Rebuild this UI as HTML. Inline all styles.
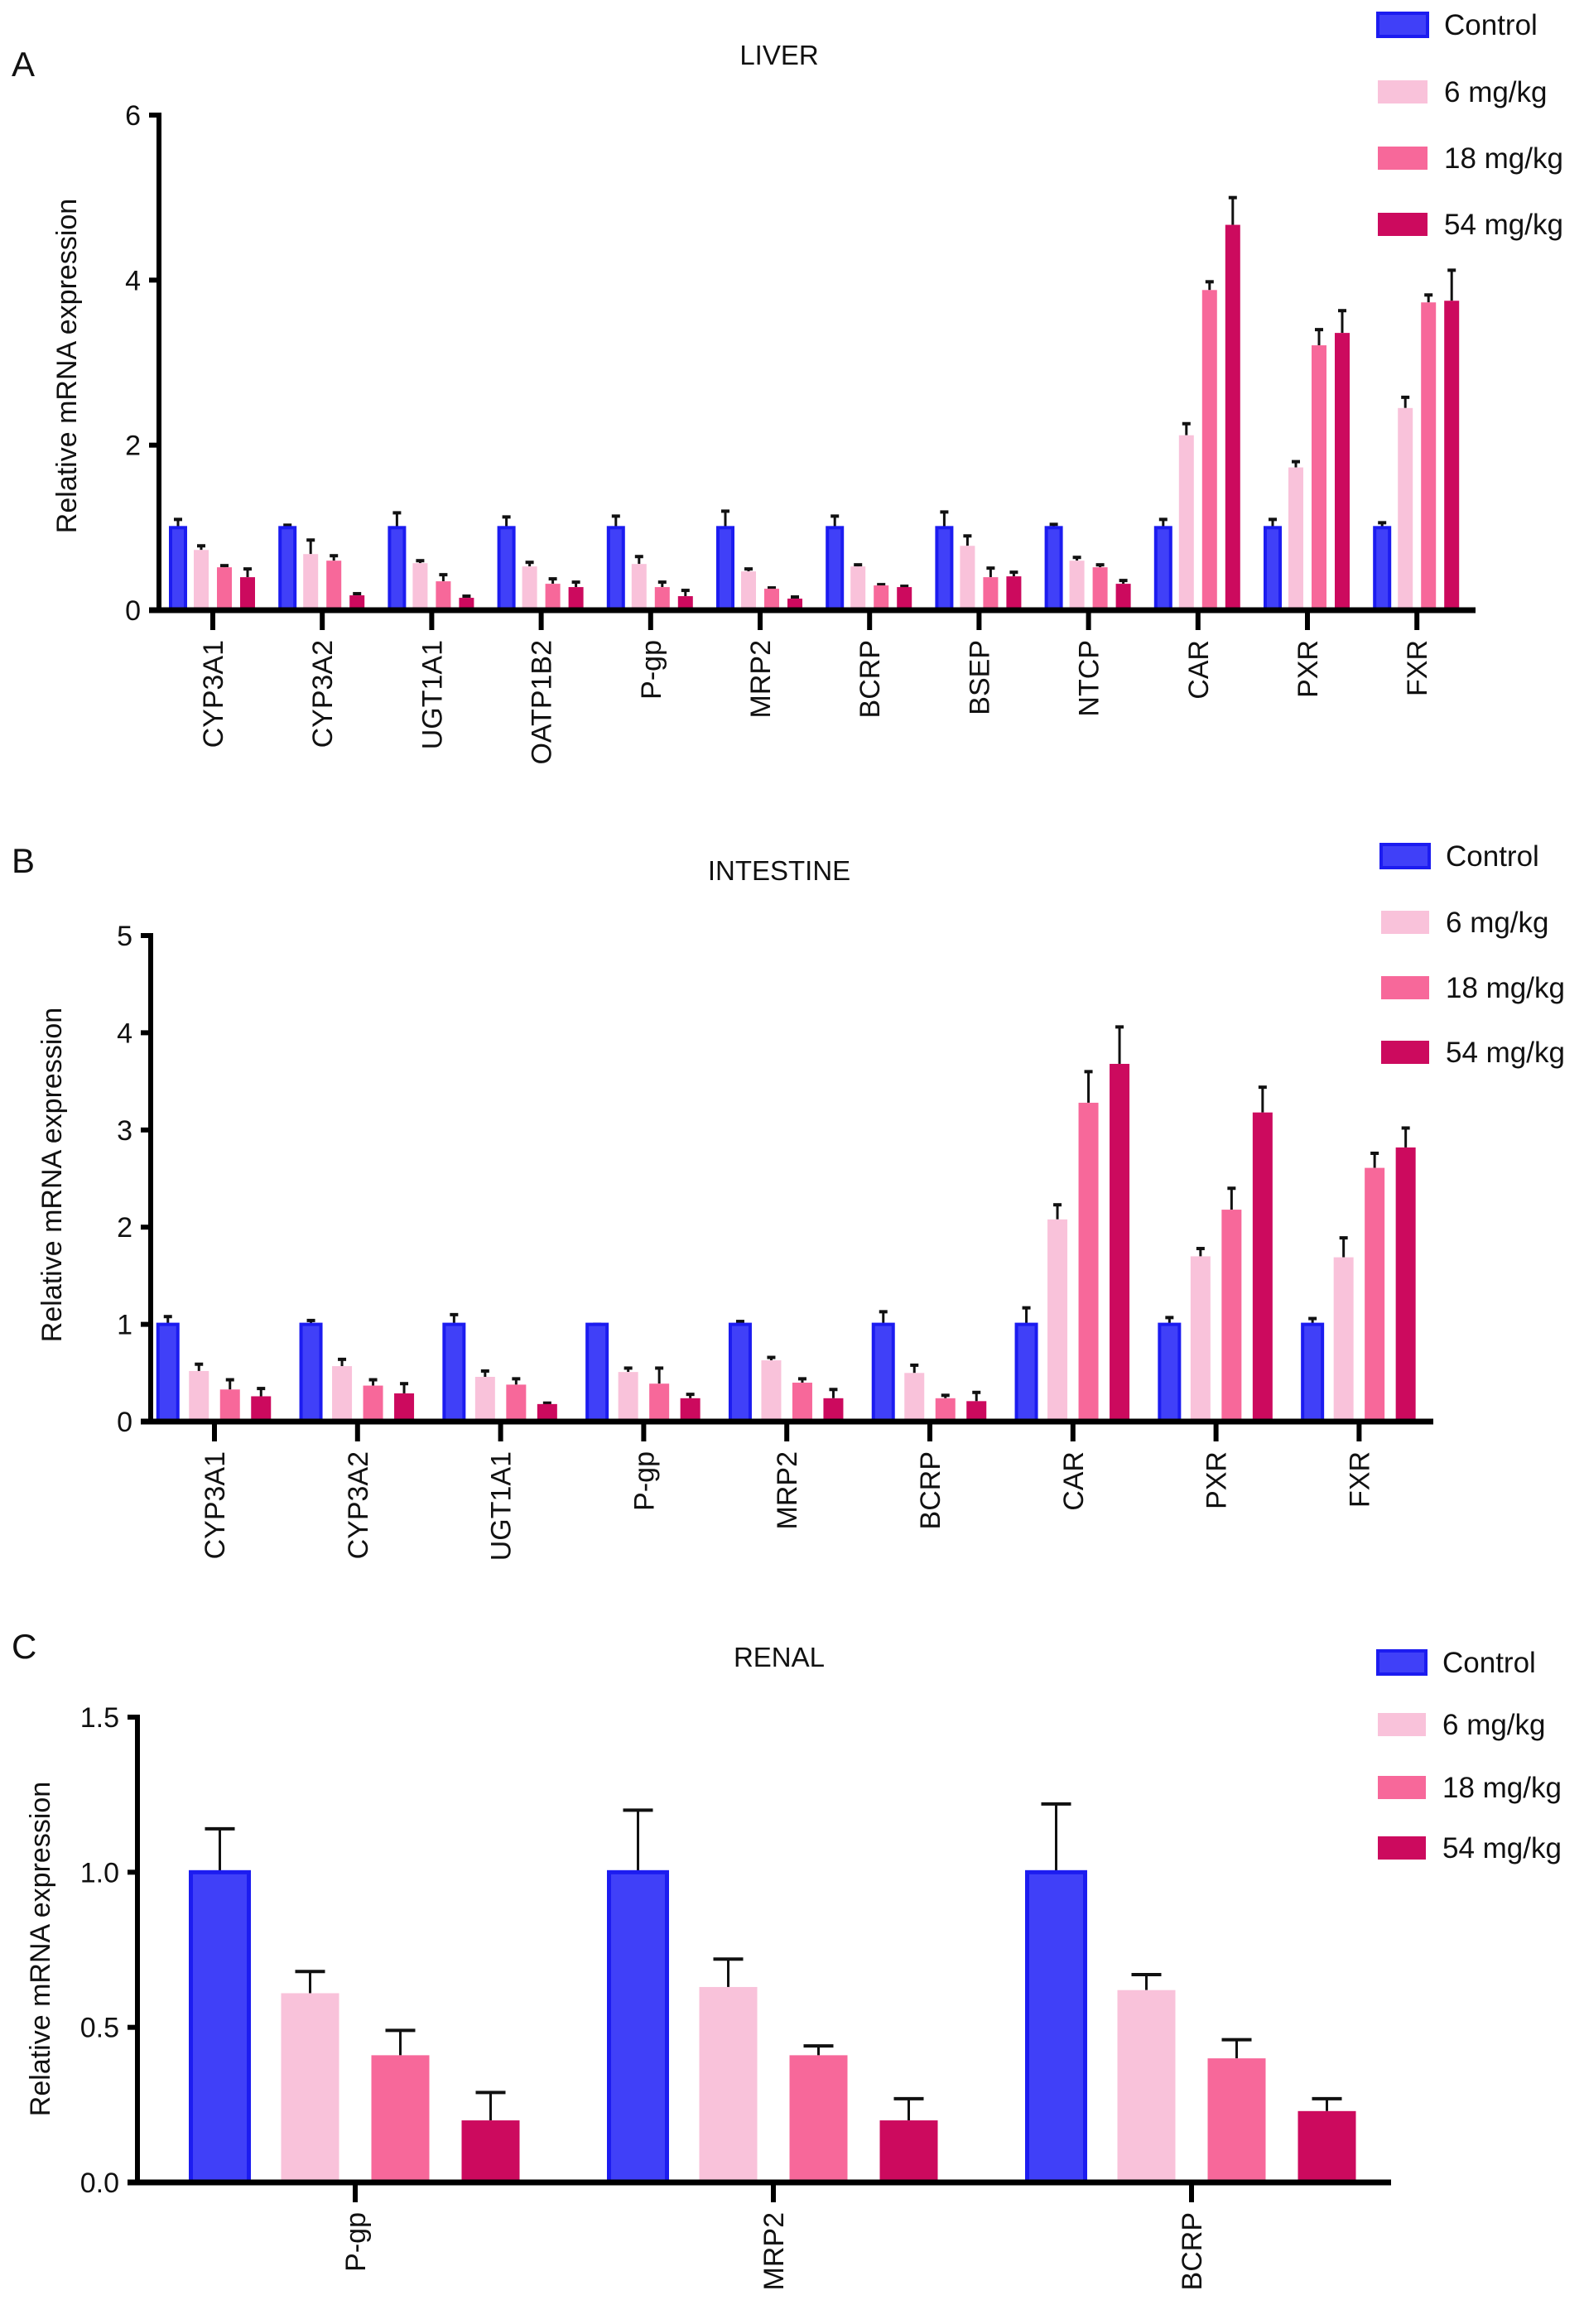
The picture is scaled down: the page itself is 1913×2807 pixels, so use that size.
<!DOCTYPE html>
<html><head><meta charset="utf-8"><style>
html,body{margin:0;padding:0;background:#fff}
svg{display:block}
text{font-family:"Liberation Sans",sans-serif;fill:#111}
</style></head><body>
<svg id="fig" width="1913" height="2807" viewBox="0 0 1913 2807" xmlns="http://www.w3.org/2000/svg"></svg>
<script>
const seriesNames = ["Control","6 mg/kg","18 mg/kg","54 mg/kg"];
const seriesColors = ["#4040f8","#f9c2da","#f7689a","#cc0a5e"];

const liverCats = ["CYP3A1","CYP3A2","UGT1A1","OATP1B2","P-gp","MRP2","BCRP","BSEP","NTCP","CAR","PXR","FXR"];
const liverControl = [1,1,1,1,1,1,1,1,1,1,1,1];
const liverControlErr = [1.1,1.03,1.18,1.13,1.14,1.2,1.14,1.19,1.04,1.1,1.1,1.06];
const liver6 = [0.73,0.68,0.57,0.53,0.56,0.47,0.53,0.78,0.6,2.12,1.73,2.45];
const liver6Err = [0.78,0.85,0.6,0.58,0.65,0.5,0.55,0.9,0.64,2.26,1.8,2.58];
const liver18 = [0.52,0.6,0.35,0.32,0.28,0.26,0.3,0.4,0.52,3.88,3.21,3.73];
const liver18Err = [0.54,0.66,0.43,0.38,0.34,0.27,0.31,0.51,0.55,3.98,3.4,3.82];
const liver54 = [0.4,0.18,0.15,0.28,0.17,0.14,0.28,0.41,0.32,4.67,3.36,3.75];
const liver54Err = [0.5,0.2,0.17,0.34,0.24,0.16,0.29,0.46,0.36,5.0,3.63,4.12];
const liverTicks = [0,2,4,6];

const intCats = ["CYP3A1","CYP3A2","UGT1A1","P-gp","MRP2","BCRP","CAR","PXR","FXR"];
const intControl = [1,1,1,1,1,1,1,1,1];
const intControlErr = [1.08,1.04,1.1,1.0,1.03,1.13,1.17,1.07,1.06];
const int6 = [0.52,0.57,0.46,0.51,0.63,0.5,2.08,1.7,1.69];
const int6Err = [0.59,0.64,0.52,0.55,0.66,0.58,2.23,1.78,1.89];
const int18 = [0.33,0.37,0.38,0.39,0.4,0.24,3.28,2.18,2.61];
const int18Err = [0.43,0.43,0.44,0.55,0.44,0.27,3.6,2.4,2.76];
const int54 = [0.26,0.29,0.18,0.24,0.24,0.21,3.68,3.18,2.82];
const int54Err = [0.34,0.39,0.19,0.28,0.33,0.3,4.06,3.44,3.02];
const intTicks = [0,1,2,3,4,5];

const renCats = ["P-gp","MRP2","BCRP"];
const renControl = [1,1,1];
const renControlErr = [1.14,1.2,1.22];
const ren6 = [0.61,0.63,0.62];
const ren6Err = [0.68,0.72,0.67];
const ren18 = [0.41,0.41,0.4];
const ren18Err = [0.49,0.44,0.46];
const ren54 = [0.2,0.2,0.23];
const ren54Err = [0.29,0.27,0.27];
const renTicks = ["0.0","0.5","1.0","1.5"];

const NS="http://www.w3.org/2000/svg";
const svg=document.getElementById('fig');
function mk(tag,attrs,parent,txt){const e=document.createElementNS(NS,tag);for(const k in attrs)e.setAttribute(k,attrs[k]);if(txt!==undefined)e.textContent=txt;(parent||svg).appendChild(e);return e;}

function panel(p){
  const g=mk('g',{});
  
  
  const yMax=p.ticks[p.ticks.length-1]*1;
  const ys=v=>p.y0-(v/yMax)*(p.y0-p.yTop);
  const xc=i=>p.x0c+i*p.step;
  let t=mk('text',{x:14,y:p.letterY,'font-size':42},g,p.letter);
  
  
  t=mk('text',{x:941,y:p.titleY,'font-size':33,'text-anchor':'middle'},g,p.title);
  
  
  const vals=[p.c,p.s6,p.s18,p.s54], errs=[p.ce,p.e6,p.e18,p.e54];
  for(let s=0;s<4;s++){
    for(let i=0;i<p.cats.length;i++){
      const cx=xc(i)+(s-1.5)*p.pitch;
      const top=ys(vals[s][i]), et=ys(errs[s][i]);
      const el=mk('line',{x1:cx,x2:cx,y1:top,y2:et,stroke:'#111','stroke-width':p.ew},g);
      
      
      const cap=mk('line',{x1:cx-p.cap,x2:cx+p.cap,y1:et,y2:et,stroke:'#111','stroke-width':p.ew+1},g);
      
      
      const r=mk('rect',{x:cx-p.bw/2,y:top,width:p.bw,height:p.y0-top,fill:seriesColors[s]},g);
      if(s===0){r.setAttribute('stroke','#1c1cf0');r.setAttribute('stroke-width',p.bw>40?5:4);}
      
      
    }
  }
  const ya=mk('line',{x1:p.ax,x2:p.ax,y1:p.yTop-3,y2:p.y0+3,stroke:'#000','stroke-width':6},g);
  
  
  const xa=mk('line',{x1:p.ax-12,x2:p.axEnd,y1:p.y0,y2:p.y0,stroke:'#000','stroke-width':7},g);
  
  
  p.ticks.forEach(tv=>{
    const y=ys(tv*1);
    const tk=mk('line',{x1:p.ax-12,x2:p.ax,y1:y,y2:y,stroke:'#000','stroke-width':6},g);
    
    
    const tl=mk('text',{x:p.ax-22,y:y+12,'font-size':34,'text-anchor':'end'},g,String(tv));
    
    
  });
  p.cats.forEach((c,i)=>{
    const x=xc(i);
    const tk=mk('line',{x1:x,x2:x,y1:p.y0,y2:p.y0+24,stroke:'#000','stroke-width':6},g);
    
    
    const tl=mk('text',{x:0,y:0,'font-size':34,'text-anchor':'end',transform:`translate(${x+12},${p.y0+36}) rotate(-90)`},g,c);
    
    
  });
  const yt=mk('text',{x:0,y:0,'font-size':34,'text-anchor':'middle',transform:`translate(${p.ytX},${p.ytY}) rotate(-90)`},g,'Relative mRNA expression');
  
  
  for(let s=0;s<4;s++){
    const y=p.legY[s];
    const sw=mk('rect',{x:p.legX,y:y-14,width:p.legW,height:28,fill:seriesColors[s]},g);
    if(s===0){sw.setAttribute('stroke','#1c1cf0');sw.setAttribute('stroke-width',4);}
    
    
    const lt=mk('text',{x:p.legX+p.legW+20,y:y+12,'font-size':35},g,seriesNames[s]);
    
    
  }
}

panel({id:'liver',letter:'A',letterY:92,title:'LIVER',titleY:78,cats:liverCats,
  c:liverControl,ce:liverControlErr,s6:liver6,e6:liver6Err,s18:liver18,e18:liver18Err,s54:liver54,e54:liver54Err,
  ticks:liverTicks,ax:192,axEnd:1782,y0:737,yTop:139,x0c:257,step:132.2,pitch:28,bw:18,cap:5,ew:3,
  ytX:92,ytY:442,legX:1664,legW:60,legY:[30,111,191,271]});
panel({id:'intestine',letter:'B',letterY:1054,title:'INTESTINE',titleY:1063,cats:intCats,
  c:intControl,ce:intControlErr,s6:int6,e6:int6Err,s18:int18,e18:int18Err,s54:int54,e54:int54Err,
  ticks:intTicks,ax:182,axEnd:1731,y0:1717,yTop:1130,x0c:259,step:172.8,pitch:37.5,bw:24,cap:5,ew:3,
  ytX:74,ytY:1419,legX:1668,legW:58,legY:[1034,1114,1193,1271]});
panel({id:'renal',letter:'C',letterY:2003,title:'RENAL',titleY:2013,cats:renCats,
  c:renControl,ce:renControlErr,s6:ren6,e6:ren6Err,s18:ren18,e18:ren18Err,s54:ren54,e54:ren54Err,
  ticks:renTicks,ax:166,axEnd:1680,y0:2636,yTop:2074,x0c:429,step:505,pitch:109,bw:70,cap:18,ew:3,
  ytX:60,ytY:2354,legX:1664,legW:58,legY:[2008,2083,2159,2232]});
</script>
</body></html>
